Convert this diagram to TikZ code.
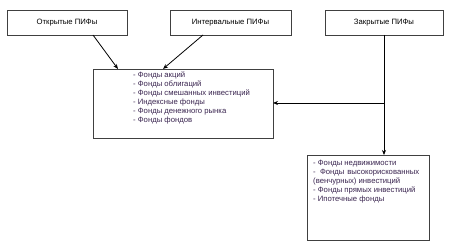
\documentclass[tikz,border=0pt]{standalone}
\usepackage{fontspec}
\setmainfont{Liberation Sans}
\usetikzlibrary{arrows.meta}
\definecolor{listc}{HTML}{3A2550}
\tikzset{
  box/.style={draw=black!75, line width=0.8pt, inner sep=0pt},
  title/.style={font=\fontsize{7.7}{9}\selectfont, text=black},
  listtext/.style={font=\fontsize{7.7}{9}\selectfont, text=listc, align=left, inner sep=0pt, anchor=north west},
  conn/.style={line width=0.8pt, -{Stealth[length=5pt,width=4pt]}}
}
\begin{document}
\begin{tikzpicture}[x=1pt,y=-1pt]
\useasboundingbox (0,0) rectangle (451,251);
\fill[white] (0,0) rectangle (451,251);
% top boxes
\draw[box] (7,10) rectangle (127,35);
\node[title] (open) at (67,22.5) {Открытые ПИФы};
\coordinate (openA) at (93,35);
\draw[box] (170,10) rectangle (291,35);
\node[title] (inter) at (230.5,22.5) {Интервальные ПИФы};
\coordinate (interA) at (203,35);
\draw[box] (325,10) rectangle (443,35);
\node[title] (closed) at (384,22.5) {Закрытые ПИФы};
\coordinate (closedA) at (384,35);
% central box
\draw[box] (93,69) rectangle (273,138);
\coordinate (centA) at (118,69);
\coordinate (centB) at (163,69);
\coordinate (centR) at (273,103);
\node[listtext] (list1) at (133,71.5) {- Фонды акций\\- Фонды облигаций\\- Фонды смешанных инвестиций\\- Индексные фонды\\- Фонды денежного рынка\\- Фонды фондов};
% bottom right box
\draw[box] (307,155) rectangle (429,240);
\coordinate (botT) at (384,155);
\coordinate (junc) at (384,103);
\node[listtext] (list2) at (313,159.5) {- Фонды недвижимости\\\hbox to 106pt{-\ \ Фонды\hfill высокорискованных}\\(венчурных) инвестиций\\- Фонды прямых инвестиций\\- Ипотечные фонды};
% connectors
\draw[conn] (openA) -- (centA);
\draw[conn] (interA) -- (centB);
\draw[conn] (closedA) -- (botT);
\draw[conn] (junc) -- (centR);
\end{tikzpicture}
\end{document}
